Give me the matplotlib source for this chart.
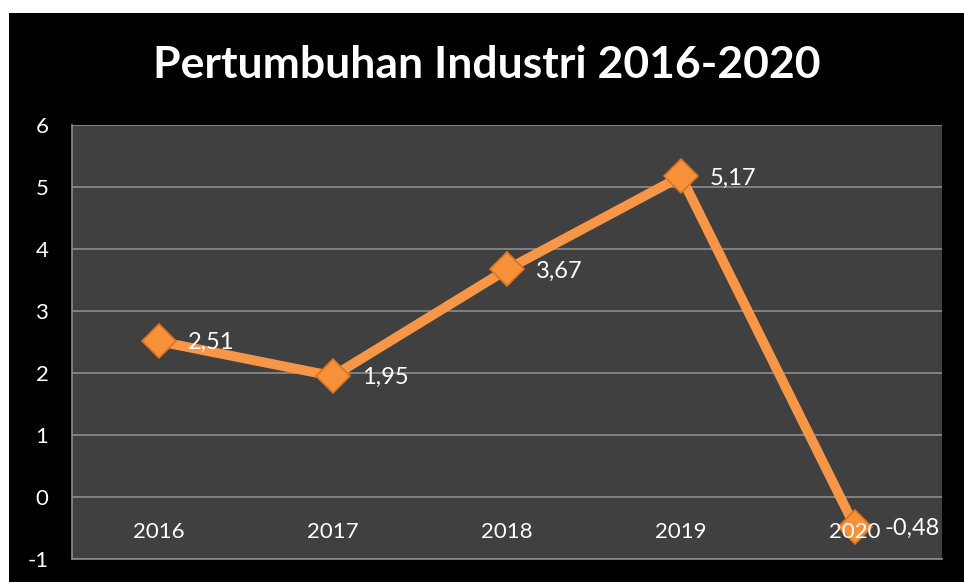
import matplotlib
matplotlib.use("Agg")
import matplotlib.pyplot as plt
from matplotlib.patches import Rectangle
from matplotlib.transforms import blended_transform_factory

years = ["2016", "2017", "2018", "2019", "2020"]
growth = [2.51, 1.95, 3.67, 5.17, -0.48]
labels = ["2,51", "1,95", "3,67", "5,17", "-0,48"]
yticks = [-1, 0, 1, 2, 3, 4, 5, 6]

plt.rcParams["font.family"] = ["Lato", "DejaVu Sans"]
plt.rcParams["axes.unicode_minus"] = False

fig = plt.figure(figsize=(9.64, 5.82), dpi=100, facecolor="white")
# black chart area with a white strip on top and left
fig.patches.append(Rectangle((9 / 964, 0), 1, 1 - 13 / 582, transform=fig.transFigure,
                             facecolor="black", edgecolor="none", zorder=-10))

ax = fig.add_axes([72 / 964, 23 / 582, 870 / 964, 434 / 582])
ax.set_facecolor("#404040")

x = list(range(len(years)))
ax.plot(x, growth, color="#F79646", lw=7, marker="D", markersize=17,
        markerfacecolor="#F7923A", markeredgecolor="#D9731F", markeredgewidth=1.2,
        solid_joinstyle="round", zorder=3)

for xi, yi, lab in zip(x, growth, labels):
    ax.annotate(lab, (xi, yi), xytext=(21, -1), textcoords="offset points",
                ha="left", va="center", color="white", fontsize=17, zorder=6)

ax.set_xlim(-0.5, 4.5)
ax.set_ylim(-1, 6)
ax.set_yticks(yticks)
ax.grid(axis="y", color="#8C8C8C", lw=1.2)
ax.set_axisbelow(True)
ax.set_xticks([])
ax.tick_params(axis="y", length=0, pad=17, labelcolor="white", labelsize=16)

# category labels sit inside the plot near the bottom
trans = blended_transform_factory(ax.transData, ax.transData)
for xi, yr in zip(x, years):
    ax.text(xi, -0.57, yr, ha="center", va="center", color="white", fontsize=16,
            transform=trans, zorder=5)

for side in ["top", "right"]:
    ax.spines[side].set_visible(False)
ax.spines["left"].set_color("#8C8C8C")
ax.spines["bottom"].set_color("#8C8C8C")
ax.spines["left"].set_linewidth(1.2)
ax.spines["bottom"].set_linewidth(1.2)

fig.text(0.505, 1 - 65 / 582, "Pertumbuhan Industri 2016-2020", ha="center", va="center",
         color="white", fontsize=32, fontweight="bold")

fig.savefig("out.png", dpi=100, facecolor=fig.get_facecolor())
